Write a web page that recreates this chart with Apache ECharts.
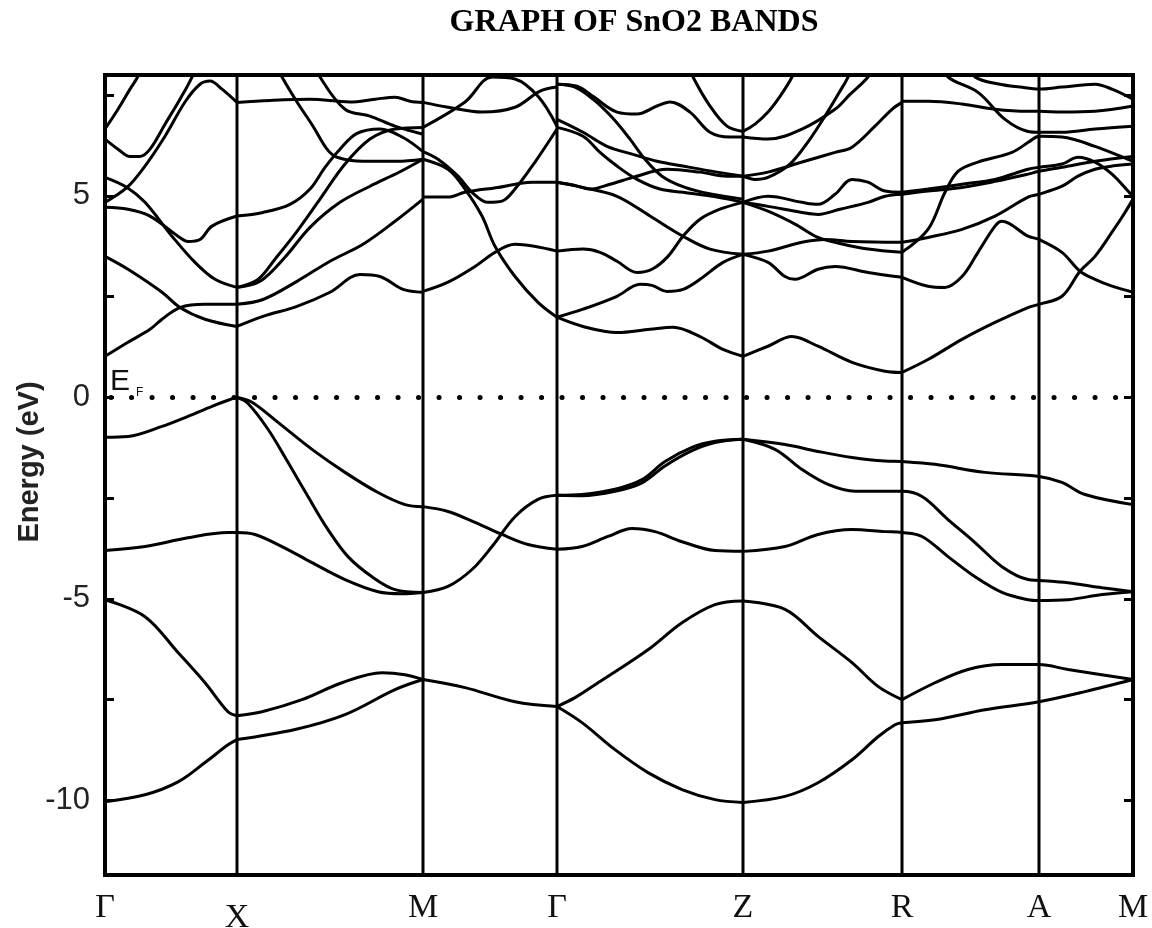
<!DOCTYPE html>
<html><head><meta charset="utf-8">
<script src="https://cdn.jsdelivr.net/npm/echarts@6/dist/echarts.min.js"></script>
<style>html,body{margin:0;padding:0;background:#fff}#c{width:1152px;height:928px}</style>
</head><body><div id="c"></div>
<script>
// high-symmetry k positions and labels
const kPoints = [0,132,318,452,638,797,934,1028];
const kLabels = ['Γ','X','M','Γ','Z','R','A','M'];
const yTickValues = [-10,-7.5,-5,-2.5,0,2.5,5,7.5];
const yLabelValues = [-10,-5,0,5];
const yMin = -11.85, yMax = 8;
const fermiLevel = [[6,0],[1028,0]];

// ---- valence bands ----
const v1  = [[0,-0.99],[23,-0.97],[57,-0.72],[83,-0.47],[107,-0.22],[123,-0.07],[132,0]];
const v1a = [[132,0],[147,-0.12],[173,-0.62],[207,-1.29],[240,-1.86],[273,-2.36],[300,-2.66],[318,-2.71]];
const v1b = [[132,0],[143,-0.15],[163,-0.79],[183,-1.61],[203,-2.46],[223,-3.28],[243,-3.95],[267,-4.45],[290,-4.77],[318,-4.84]];
const v2  = [[0,-3.8],[40,-3.7],[83,-3.48],[123,-3.35],[132,-3.35],[150,-3.4],[177,-3.7],[207,-4.1],[240,-4.52],[273,-4.82],[297,-4.87],[318,-4.84]];
const vMG1 = [[318,-2.71],[343,-2.83],[370,-3.1],[397,-3.4],[423,-3.65],[452,-3.77]];
const vMG2 = [[318,-4.84],[343,-4.69],[367,-4.27],[387,-3.7],[410,-2.96],[433,-2.53],[452,-2.43]];
const vGZ1 = [[452,-3.77],[477,-3.7],[503,-3.45],[527,-3.25],[550,-3.33],[577,-3.58],[610,-3.8],[638,-3.82]];
const vGZ2 = [[452,-2.43],[477,-2.41],[510,-2.28],[537,-2.04],[560,-1.59],[587,-1.24],[610,-1.09],[638,-1.04]];
const vGZ3 = [[452,-2.43],[477,-2.44],[510,-2.33],[537,-2.12],[560,-1.7],[587,-1.32],[610,-1.12],[638,-1.04]];
const vZM1 = [[638,-1.04],[680,-1.17],[713,-1.34],[747,-1.49],[780,-1.58],[797,-1.59],[830,-1.66],[880,-1.86],[934,-1.96],[957,-2.11],[980,-2.41],[1028,-2.66]];
const vZM2 = [[638,-1.04],[670,-1.29],[697,-1.79],[723,-2.16],[750,-2.33],[780,-2.33],[797,-2.33],[817,-2.46],[843,-3.03],[870,-3.6],[897,-4.2],[923,-4.52],[934,-4.54],[963,-4.6],[997,-4.72],[1028,-4.82]];
const vZM3 = [[638,-3.82],[680,-3.7],[713,-3.4],[747,-3.28],[780,-3.33],[797,-3.35],[817,-3.45],[843,-3.95],[870,-4.45],[897,-4.84],[923,-5.02],[934,-5.04],[963,-5.02],[997,-4.89],[1028,-4.82]];
const vL1  = [[0,-5.02],[40,-5.44],[73,-6.33],[100,-7.08],[123,-7.8],[132,-7.9]];
const vL1b = [[132,-7.9],[157,-7.8],[197,-7.5],[237,-7.08],[277,-6.83],[300,-6.88],[318,-7.0]];
const vL2  = [[0,-10.03],[40,-9.86],[73,-9.54],[100,-9.06],[123,-8.62],[132,-8.49]];
const vL2b = [[132,-8.49],[190,-8.24],[240,-7.87],[290,-7.25],[318,-7.0]];
const vL3  = [[318,-7.0],[360,-7.2],[410,-7.55],[452,-7.67]];
const vL4  = [[452,-7.67],[470,-7.45],[493,-7.08],[543,-6.26],[577,-5.59],[610,-5.14],[638,-5.05]];
const vL5  = [[452,-7.67],[477,-8.07],[510,-8.74],[543,-9.31],[577,-9.73],[610,-9.98],[638,-10.05]];
const vL6  = [[638,-5.05],[680,-5.26],[713,-5.93],[747,-6.58],[773,-7.17],[797,-7.5]];
const vL7  = [[638,-10.05],[680,-9.9],[713,-9.56],[747,-8.99],[773,-8.42],[790,-8.12],[797,-8.07]];
const vL8  = [[797,-7.5],[830,-7.08],[863,-6.75],[897,-6.63],[934,-6.63],[963,-6.75],[1028,-7.0]];
const vL9  = [[797,-8.07],[830,-8.0],[880,-7.75],[934,-7.55],[980,-7.3],[1028,-7.0]];

// ---- conduction bands ----
const cG1 = [[0,1.02],[23,1.37],[45,1.69],[57,1.94],[75,2.23],[100,2.31],[132,2.31]];
const cG2 = [[0,3.5],[23,3.18],[57,2.61],[75,2.23],[100,1.94],[132,1.76]];
const cG3 = [[0,5.46],[22,5.21],[40,4.84],[67,4.0],[90,3.35],[110,2.93],[132,2.73]];
const cG4 = [[0,4.72],[23,4.67],[45,4.5],[73,4.0],[83,3.87],[95,3.92],[107,4.25],[132,4.5]];
const cG5 = [[0,4.84],[22,5.21],[40,5.74],[60,6.48],[80,7.33],[95,7.77],[105,7.85],[117,7.65],[132,7.32]];
const cG6 = [[0,6.41],[13,6.16],[25,5.98],[35,5.98],[45,6.16],[60,6.78],[75,7.4],[87,7.95],[92,8.3]];
const cG7 = [[0,6.66],[13,7.15],[25,7.65],[33,7.97],[38,8.3]];
const cXM1 = [[132,1.76],[158,2.01],[192,2.26],[225,2.61],[255,3.05],[275,3.0],[298,2.68],[318,2.61]];
const cXM2 = [[132,2.31],[158,2.43],[192,2.88],[225,3.38],[258,3.8],[290,4.37],[318,4.92]];
const cXM3 = [[132,2.73],[155,2.88],[180,3.48],[205,4.22],[235,4.84],[265,5.24],[295,5.6],[318,5.91]];
const cXM4 = [[132,2.73],[153,2.93],[170,3.43],[192,4.12],[215,4.92],[240,5.79],[265,6.41],[290,6.66],[318,6.7]];
const cXM5 = [[132,4.5],[158,4.59],[185,4.79],[205,5.17],[220,5.71],[235,6.16],[252,6.55],[275,6.66],[298,6.45],[318,6.1]];
const cXM6 = [[170,8.3],[177,7.95],[192,7.33],[208,6.73],[222,6.16],[232,5.96],[258,5.86],[292,5.86],[318,5.91]];
const cXM7 = [[210,8.3],[215,7.95],[240,7.15],[265,6.98],[290,6.73],[318,6.53]];
const cXM8 = [[132,7.32],[165,7.37],[205,7.4],[245,7.33],[270,7.4],[290,7.45],[305,7.35],[318,7.32]];
const cMG1 = [[318,6.1],[333,5.91],[353,5.49],[367,5.09],[383,4.84],[397,4.87],[410,5.17],[430,5.84],[452,6.66]];
const cMG2 = [[318,5.91],[343,5.66],[360,5.17],[377,4.5],[390,3.75],[410,3.0],[433,2.36],[452,1.99]];
const cMG3 = [[318,4.97],[343,4.97],[360,5.09],[393,5.21],[427,5.34],[452,5.34]];
const cMG4 = [[318,2.63],[343,2.86],[370,3.25],[390,3.6],[410,3.8],[452,3.63]];
const cMG5 = [[318,6.7],[360,7.33],[387,7.95],[410,7.9],[433,7.47],[452,6.73]];
const cMG6 = [[318,7.32],[343,7.2],[377,7.08],[410,7.2],[435,7.6],[452,7.7]];
const cGZ1 = [[452,7.77],[472,7.72],[488,7.47],[512,7.08],[532,7.03],[552,7.23],[565,7.33],[585,7.08],[605,6.58],[625,6.46],[638,6.46]];
const cGZ2 = [[583,8.3],[588,7.95],[605,7.23],[622,6.73],[638,6.6]];
const cGZ3 = [[452,6.9],[478,6.58],[502,6.23],[528,6.03],[552,5.86],[578,5.74],[612,5.59],[638,5.49]];
const cGZ4 = [[452,6.7],[478,6.48],[495,6.08],[512,5.74],[532,5.41],[555,5.17],[578,5.09],[612,4.97],[638,4.84]];
const cGZ5 = [[452,7.77],[470,7.7],[488,7.4],[507,6.95],[525,6.41],[540,5.91],[557,5.49],[580,5.21],[607,5.04],[638,4.92]];
const cGZ6 = [[452,5.34],[470,5.26],[485,5.17],[505,5.29],[528,5.46],[562,5.66],[595,5.59],[622,5.49],[638,5.49]];
const cGZ7 = [[452,5.34],[478,5.21],[512,4.99],[545,4.5],[578,4.0],[605,3.68],[638,3.55]];
const cGZ8 = [[452,3.63],[478,3.68],[495,3.6],[512,3.38],[532,3.1],[547,3.18],[563,3.5],[578,4.0],[595,4.42],[615,4.67],[638,4.84]];
const cGZ9 = [[452,1.99],[478,2.19],[512,2.51],[535,2.81],[547,2.78],[562,2.63],[578,2.68],[595,2.93],[618,3.35],[638,3.55]];
const cGZ10 = [[452,1.99],[478,1.76],[512,1.61],[545,1.69],[568,1.74],[595,1.51],[618,1.19],[638,1.02]];
const cZR1 = [[638,6.6],[650,6.78],[663,7.08],[675,7.47],[687,7.95],[692,8.3]];
const cZR2 = [[638,6.46],[663,6.41],[697,6.66],[730,7.15],[745,7.52],[763,7.95],[770,8.3]];
const cZR3 = [[638,5.49],[650,5.41],[663,5.46],[685,5.79],[705,6.41],[720,6.98],[735,7.6],[743,7.95],[748,8.3]];
const cZR4 = [[638,5.49],[663,5.59],[697,5.84],[730,6.08],[747,6.21],[770,6.73],[787,7.15],[797,7.32]];
const cZR5 = [[638,4.84],[663,4.99],[697,4.84],[713,4.79],[730,5.04],[747,5.41],[763,5.34],[780,5.12],[797,5.09]];
const cZR6 = [[638,4.84],[663,4.74],[697,4.59],[713,4.54],[735,4.67],[763,4.84],[780,4.99],[797,5.04]];
const cZR7 = [[638,4.84],[663,4.62],[690,4.3],[713,3.97],[735,3.82],[763,3.68],[797,3.6]];
const cZR8 = [[638,3.55],[663,3.63],[697,3.85],[720,3.92],[747,3.87],[797,3.85]];
const cZR9 = [[638,3.55],[663,3.35],[680,3.0],[690,2.93],[713,3.18],[730,3.25],[763,3.1],[797,2.98]];
const cZR10 = [[638,1.02],[663,1.27],[687,1.51],[713,1.27],[747,0.87],[780,0.65],[797,0.62]];
const cRM1 = [[797,0.62],[823,0.94],[857,1.44],[890,1.86],[923,2.23],[934,2.31],[957,2.51],[975,3.13],[990,3.5],[1007,4.1],[1020,4.59],[1028,4.92]];
const cRM2 = [[797,2.98],[823,2.76],[840,2.73],[857,3.0],[873,3.6],[890,4.25],[897,4.37],[923,4.0],[934,3.92],[957,3.6],[975,3.13],[990,2.93],[1007,2.76],[1028,2.61]];
const cRM3 = [[797,3.85],[823,3.97],[857,4.17],[890,4.5],[923,4.97],[934,5.04],[957,5.24],[973,5.49],[990,5.66],[1007,5.74],[1028,5.79]];
const cRM4 = [[797,3.6],[823,4.17],[840,5.09],[853,5.61],[873,5.84],[907,6.08],[925,6.36],[934,6.48],[957,6.46],[990,6.23],[1023,5.91],[1028,5.86]];
const cRM5 = [[797,5.09],[823,5.17],[857,5.29],[890,5.41],[923,5.66],[934,5.71],[957,5.79],[973,5.96],[990,5.84],[1007,5.54],[1023,5.12],[1028,4.99]];
const cRM6 = [[797,5.04],[823,5.12],[857,5.21],[890,5.36],[923,5.54],[934,5.61],[957,5.71],[990,5.86],[1028,5.98]];
const cRM7 = [[797,7.35],[823,7.35],[857,7.28],[890,7.15],[923,7.1],[934,7.1],[957,7.08],[990,7.1],[1028,7.23]];
const cRM8 = [[838,8.3],[843,7.95],[873,7.57],[900,6.9],[923,6.6],[934,6.58],[957,6.58],[990,6.66],[1028,6.73]];
const cRM9 = [[865,8.3],[870,7.95],[895,7.77],[915,7.7],[934,7.65],[957,7.7],[990,7.77],[1007,7.65],[1028,7.4]];

const bandList = [v1,v1a,v1b,v2,vMG1,vMG2,vGZ1,vGZ2,vGZ3,vZM1,vZM2,vZM3,vL1,vL1b,vL2,vL2b,vL3,vL4,vL5,vL6,vL7,vL8,vL9,
  cG1,cG2,cG3,cG4,cG5,cG6,cG7,cXM1,cXM2,cXM3,cXM4,cXM5,cXM6,cXM7,cXM8,cMG1,cMG2,cMG3,cMG4,cMG5,cMG6,
  cGZ1,cGZ2,cGZ3,cGZ4,cGZ5,cGZ6,cGZ7,cGZ8,cGZ9,cGZ10,cZR1,cZR2,cZR3,cZR4,cZR5,cZR6,cZR7,cZR8,cZR9,cZR10,
  cRM1,cRM2,cRM3,cRM4,cRM5,cRM6,cRM7,cRM8,cRM9];

const chart = echarts.init(document.getElementById('c'), null, {renderer:'canvas'});
const series = [];
// vertical lines at interior high-symmetry points
kPoints.slice(1, -1).forEach(k => {
  series.push({type:'line', data:[[k,yMin],[k,yMax]], showSymbol:false, silent:true,
    lineStyle:{color:'#000', width:3}, z:3});
});
bandList.forEach(b => {
  series.push({type:'line', data:b, smooth:0.35, showSymbol:false, silent:true,
    lineStyle:{color:'#000', width:3}, z:4});
});
series.push({type:'line', data:fermiLevel, showSymbol:false, silent:true,
  lineStyle:{color:'#000', width:5, type:[0.1,20.4], cap:'round'}, z:5});

const tickCommon = {show:true, inside:true, length:9, customValues:yTickValues, lineStyle:{color:'#000', width:3}};
chart.setOption({
  animation:false,
  backgroundColor:'#fff',
  grid:{left:105, right:19, top:75, bottom:53, containLabel:false, outerBoundsMode:'none',
    show:true, borderColor:'#000', borderWidth:4, backgroundColor:'transparent'},
  xAxis:{type:'value', min:0, max:1028, axisLine:{show:false}, splitLine:{show:false}, axisTick:{show:false},
    axisLabel:{customValues:kPoints, margin:16, color:'#111', fontFamily:'"Liberation Serif", serif', fontSize:34,
      formatter:(v)=>{const i=kPoints.indexOf(v); const s=kLabels[i]; return s==='X' ? '{x|X}' : s;},
      rich:{x:{fontFamily:'"Liberation Serif", serif', fontSize:34, color:'#111', padding:[10,0,0,0]}}}},
  yAxis:[
    {type:'value', min:yMin, max:yMax, position:'left', axisLine:{show:false}, splitLine:{show:false},
      axisTick:tickCommon,
      axisLabel:{customValues:yLabelValues, margin:15, color:'#222', fontFamily:'"Liberation Sans", Arial, sans-serif', fontSize:31}},
    {type:'value', min:yMin, max:yMax, position:'right', axisLine:{show:false}, splitLine:{show:false},
      axisTick:tickCommon, axisLabel:{show:false}}
  ],
  graphic:[
    {type:'text', x:634, y:23, style:{text:'GRAPH OF SnO2 BANDS', font:'bold 32px "Liberation Serif", serif', fill:'#000', textAlign:'center', textVerticalAlign:'middle'}},
    {type:'text', x:30, y:462, rotation:Math.PI/2, style:{text:'Energy (eV)', font:'bold 29px "Liberation Sans", Arial, sans-serif', fill:'#222', textAlign:'center', textVerticalAlign:'middle'}},
    {type:'text', x:110, y:382, style:{text:'E', font:'30px "Liberation Sans", Arial, sans-serif', fill:'#111', textAlign:'left', textVerticalAlign:'middle'}},
    {type:'text', x:136, y:393, style:{text:'F', font:'12px "Liberation Sans", Arial, sans-serif', fill:'#111', textAlign:'left', textVerticalAlign:'middle'}}
  ],
  series: series
});
</script></body></html>
